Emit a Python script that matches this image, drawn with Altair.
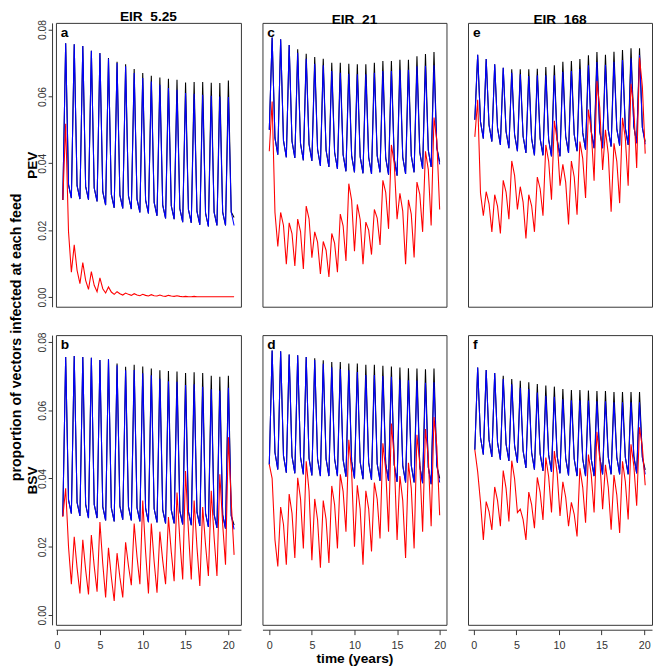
import altair as alt
import pandas as pd

# ---------------- data ----------------
# time of the first sample for each column of panels (years), sampling every 1/3 year
t_start = {"a": 0.67, "b": 0.67, "c": 0.0, "d": 0.0, "e": 0.12, "f": 0.12}
x_domain = {"a": [-0.13, 21.47], "b": [-0.13, 21.47], "c": [-0.8, 20.8],
            "d": [-0.8, 20.8], "e": [-0.68, 20.92], "f": [-0.68, 20.92]}

# ---- panel a : PEV, EIR 5.25
blue_start_a = 0.0290
black_peak_a = [0.0759,0.0756,0.0751,0.0737,0.0730,0.0715,0.0704,0.0696,0.0682,0.0670,0.0662,0.0657,0.0653,0.0650,0.0642,0.0643,0.0643,0.0641,0.0640,0.0648]
blue_peak_a = [0.0759,0.0756,0.0751,0.0737,0.0729,0.0713,0.0700,0.0690,0.0670,0.0655,0.0645,0.0635,0.0625,0.0620,0.0610,0.0608,0.0605,0.0602,0.0600,0.0598]
blue_fall_a = [0.0336,0.0333,0.0331,0.0326,0.0315,0.0307,0.0305,0.0303,0.0293,0.0290,0.0283,0.0275,0.0273,0.0264,0.0262,0.0256,0.0251,0.0254,0.0254,0.0254]
blue_trough_a = [0.0296,0.0293,0.0291,0.0286,0.0275,0.0267,0.0265,0.0263,0.0253,0.0250,0.0243,0.0235,0.0233,0.0224,0.0222,0.0216,0.0211,0.0214,0.0214,0.0214]
black_end_a = 0.0238
red_start_a = 0.0290
red_peak_a = [0.0518,0.0156,0.0103,0.0076,0.0057,0.0030,0.0016,0.0012,0.0010,0.0008,0.0007,0.0006,0.0005,0.0004,0.0002,0.0002,0.0001,0.0001,0.0001,0.0001]
red_shoulder_a = [0.0195,0.0080,0.0050,0.0035,0.0025,0.0015,0.0010,0.0008,0.0006,0.0005,0.0004,0.0003,0.0003,0.0002,0.0001,0.0001,0.0001,0.0001,0.0001,0.0001]
red_trough_a = [0.0074,0.0040,0.0023,0.0016,0.0012,0.0008,0.0006,0.0005,0.0004,0.0003,0.0003,0.0002,0.0002,0.0001,0.0001,0.0001,0.0001,0.0001,0.0001,0.0001]

# ---- panel b : BSV, EIR 5.25
blue_start_b = 0.0290
black_peak_b = [0.0756,0.0759,0.0756,0.0754,0.0747,0.0749,0.0737,0.0727,0.0733,0.0728,0.0722,0.0717,0.0715,0.0713,0.0709,0.0711,0.0709,0.0701,0.0698,0.0701]
blue_peak_b = [0.0756,0.0759,0.0756,0.0754,0.0747,0.0749,0.0732,0.0717,0.0718,0.0708,0.0702,0.0692,0.0685,0.0683,0.0674,0.0676,0.0669,0.0661,0.0658,0.0666]
blue_fall_b = [0.0337,0.0330,0.0324,0.0324,0.0317,0.0314,0.0319,0.0317,0.0314,0.0312,0.0311,0.0308,0.0308,0.0305,0.0303,0.0301,0.0298,0.0295,0.0293,0.0291]
blue_trough_b = [0.0297,0.0290,0.0284,0.0284,0.0277,0.0274,0.0279,0.0277,0.0274,0.0272,0.0271,0.0268,0.0268,0.0265,0.0263,0.0261,0.0258,0.0255,0.0253,0.0251]
black_end_b = 0.0263
red_start_b = 0.0287
red_peak_b = [0.0371,0.0229,0.0220,0.0234,0.0272,0.0197,0.0181,0.0213,0.0268,0.0335,0.0268,0.0244,0.0287,0.0359,0.0422,0.0335,0.0316,0.0364,0.0412,0.0521]
red_shoulder_b = [0.0200,0.0138,0.0132,0.0143,0.0150,0.0111,0.0110,0.0144,0.0170,0.0185,0.0156,0.0159,0.0184,0.0219,0.0247,0.0198,0.0205,0.0227,0.0266,0.0331]
red_trough_b = [0.0090,0.0063,0.0060,0.0068,0.0051,0.0041,0.0051,0.0087,0.0090,0.0063,0.0065,0.0090,0.0099,0.0104,0.0104,0.0085,0.0114,0.0114,0.0147,0.0176]

# ---- panel c : PEV, EIR 21
blue_start_c = 0.0500
black_peak_c = [0.0776,0.0771,0.0754,0.0741,0.0728,0.0718,0.0713,0.0701,0.0701,0.0698,0.0696,0.0696,0.0701,0.0706,0.0706,0.0710,0.0710,0.0720,0.0727,0.0733]
blue_peak_c = [0.0776,0.0771,0.0754,0.0731,0.0713,0.0698,0.0693,0.0676,0.0671,0.0668,0.0666,0.0666,0.0671,0.0676,0.0676,0.0680,0.0680,0.0690,0.0692,0.0693]
blue_fall_c = [0.0476,0.0468,0.0466,0.0459,0.0457,0.0442,0.0439,0.0433,0.0426,0.0423,0.0420,0.0418,0.0423,0.0416,0.0413,0.0418,0.0423,0.0433,0.0439,0.0447]
blue_trough_c = [0.0426,0.0418,0.0416,0.0409,0.0407,0.0392,0.0389,0.0383,0.0376,0.0373,0.0370,0.0368,0.0373,0.0366,0.0363,0.0368,0.0373,0.0383,0.0389,0.0397]
black_end_c = 0.0405
red_start_c = 0.0436
red_peak_c = [0.0585,0.0253,0.0222,0.0233,0.0272,0.0195,0.0166,0.0190,0.0248,0.0339,0.0277,0.0224,0.0262,0.0349,0.0455,0.0310,0.0291,0.0344,0.0436,0.0537]
red_shoulder_c = [0.0253,0.0214,0.0190,0.0196,0.0234,0.0164,0.0140,0.0161,0.0213,0.0289,0.0232,0.0200,0.0236,0.0313,0.0400,0.0257,0.0248,0.0307,0.0381,0.0468]
red_trough_c = [0.0151,0.0098,0.0093,0.0084,0.0118,0.0069,0.0060,0.0074,0.0108,0.0137,0.0098,0.0127,0.0156,0.0204,0.0233,0.0098,0.0118,0.0195,0.0214,0.0262]

# ---- panel d : BSV, EIR 21
blue_start_d = 0.0441
black_peak_d = [0.0775,0.0773,0.0763,0.0761,0.0756,0.0752,0.0746,0.0741,0.0741,0.0737,0.0737,0.0733,0.0733,0.0730,0.0728,0.0725,0.0723,0.0722,0.0720,0.0722]
blue_peak_d = [0.0775,0.0773,0.0763,0.0761,0.0756,0.0747,0.0736,0.0726,0.0721,0.0717,0.0712,0.0703,0.0703,0.0700,0.0698,0.0690,0.0688,0.0687,0.0680,0.0682]
blue_fall_d = [0.0476,0.0467,0.0465,0.0462,0.0459,0.0457,0.0457,0.0457,0.0455,0.0450,0.0448,0.0446,0.0443,0.0443,0.0440,0.0438,0.0438,0.0436,0.0433,0.0438]
blue_trough_d = [0.0426,0.0417,0.0415,0.0412,0.0409,0.0407,0.0407,0.0407,0.0405,0.0400,0.0398,0.0396,0.0393,0.0393,0.0390,0.0388,0.0388,0.0386,0.0383,0.0388]
black_end_d = 0.0400
red_start_d = 0.0441
red_peak_d = [0.0400,0.0316,0.0354,0.0402,0.0450,0.0340,0.0335,0.0378,0.0412,0.0513,0.0380,0.0364,0.0388,0.0503,0.0561,0.0407,0.0446,0.0528,0.0545,0.0580]
red_shoulder_d = [0.0220,0.0265,0.0298,0.0340,0.0363,0.0279,0.0280,0.0323,0.0362,0.0419,0.0310,0.0311,0.0339,0.0425,0.0459,0.0335,0.0371,0.0443,0.0460,0.0494]
red_trough_d = [0.0142,0.0147,0.0167,0.0195,0.0160,0.0138,0.0152,0.0195,0.0244,0.0200,0.0147,0.0186,0.0224,0.0244,0.0220,0.0167,0.0195,0.0244,0.0260,0.0292]

# ---- panel e : PEV, EIR 168
blue_start_e = 0.0530
black_peak_e = [0.0725,0.0712,0.0696,0.0686,0.0681,0.0681,0.0681,0.0683,0.0688,0.0693,0.0704,0.0706,0.0712,0.0723,0.0733,0.0725,0.0734,0.0739,0.0744,0.0744]
blue_peak_e = [0.0725,0.0712,0.0696,0.0686,0.0671,0.0666,0.0661,0.0663,0.0663,0.0663,0.0674,0.0676,0.0682,0.0693,0.0703,0.0695,0.0704,0.0709,0.0714,0.0724]
blue_fall_e = [0.0524,0.0515,0.0505,0.0495,0.0486,0.0481,0.0474,0.0474,0.0471,0.0471,0.0481,0.0486,0.0491,0.0495,0.0495,0.0500,0.0503,0.0505,0.0510,0.0507]
blue_trough_e = [0.0474,0.0465,0.0455,0.0445,0.0436,0.0431,0.0424,0.0424,0.0421,0.0421,0.0431,0.0436,0.0441,0.0445,0.0445,0.0450,0.0453,0.0455,0.0460,0.0457]
black_end_e = 0.0465
red_start_e = 0.0479
red_peak_e = [0.0590,0.0315,0.0306,0.0349,0.0407,0.0330,0.0306,0.0359,0.0455,0.0527,0.0397,0.0407,0.0465,0.0561,0.0646,0.0500,0.0460,0.0536,0.0638,0.0716]
red_shoulder_e = [0.0310,0.0279,0.0271,0.0314,0.0364,0.0284,0.0273,0.0324,0.0406,0.0469,0.0343,0.0359,0.0414,0.0497,0.0566,0.0427,0.0406,0.0475,0.0562,0.0630]
red_trough_e = [0.0243,0.0195,0.0190,0.0233,0.0262,0.0175,0.0195,0.0243,0.0291,0.0333,0.0217,0.0246,0.0296,0.0348,0.0380,0.0255,0.0281,0.0333,0.0386,0.0429]

# ---- panel f : BSV, EIR 168
blue_start_f = 0.0484
black_peak_f = [0.0725,0.0718,0.0709,0.0701,0.0691,0.0686,0.0682,0.0677,0.0672,0.0669,0.0662,0.0659,0.0659,0.0658,0.0656,0.0656,0.0653,0.0653,0.0653,0.0653]
blue_peak_f = [0.0725,0.0718,0.0709,0.0691,0.0676,0.0666,0.0662,0.0652,0.0642,0.0639,0.0632,0.0629,0.0629,0.0628,0.0626,0.0626,0.0623,0.0623,0.0623,0.0623]
blue_fall_f = [0.0520,0.0513,0.0505,0.0501,0.0496,0.0481,0.0476,0.0472,0.0469,0.0465,0.0459,0.0457,0.0457,0.0457,0.0462,0.0462,0.0462,0.0462,0.0465,0.0462]
blue_trough_f = [0.0470,0.0463,0.0455,0.0451,0.0446,0.0431,0.0426,0.0422,0.0419,0.0415,0.0409,0.0407,0.0407,0.0407,0.0412,0.0412,0.0412,0.0412,0.0415,0.0412]
black_end_f = 0.0425
red_start_f = 0.0484
red_peak_f = [0.0420,0.0332,0.0375,0.0423,0.0452,0.0310,0.0360,0.0403,0.0461,0.0480,0.0390,0.0330,0.0430,0.0470,0.0537,0.0440,0.0410,0.0450,0.0500,0.0550]
red_shoulder_f = [0.0330,0.0303,0.0335,0.0371,0.0399,0.0279,0.0323,0.0359,0.0405,0.0414,0.0345,0.0295,0.0374,0.0411,0.0458,0.0374,0.0351,0.0391,0.0437,0.0491]
red_trough_f = [0.0220,0.0249,0.0260,0.0274,0.0300,0.0220,0.0254,0.0278,0.0300,0.0290,0.0260,0.0230,0.0270,0.0300,0.0310,0.0250,0.0240,0.0280,0.0320,0.0380]

column_titles = {"a": "EIR\u00a0 5.25", "c": "EIR\u00a0 21", "e": "EIR\u00a0 168"}
row_titles = {"a": "PEV", "b": "BSV"}
y_ticks = [0.0, 0.02, 0.04, 0.06, 0.08]
x_ticks = [0, 5, 10, 15, 20]

D = globals()


def cycle_series(start, peaks, mids, lows):
    vals = [start]
    for p, m, l in zip(peaks, mids, lows):
        vals += [p, m, l]
    return vals


def panel_frame(k):
    blue = cycle_series(D[f"blue_start_{k}"], D[f"blue_peak_{k}"], D[f"blue_fall_{k}"], D[f"blue_trough_{k}"])
    black = cycle_series(D[f"blue_start_{k}"], D[f"black_peak_{k}"], D[f"blue_fall_{k}"],
                         D[f"blue_trough_{k}"][:-1] + [D[f"black_end_{k}"]])
    red = cycle_series(D[f"red_start_{k}"], D[f"red_peak_{k}"], D[f"red_shoulder_{k}"], D[f"red_trough_{k}"])
    rows = []
    for name, vals in (("black", black), ("blue", blue), ("red", red)):
        for i, v in enumerate(vals):
            rows.append({"t": t_start[k] + i / 3.0, "v": v, "s": name})
    return pd.DataFrame(rows)


FONT = "Liberation Sans"
W = {"a": 189, "b": 189, "c": 188, "d": 188, "e": 188, "f": 188}
H_TOP, H_BOT = 290, 296
colors = {"black": "#000000", "blue": "#0000ff", "red": "#ff0000"}


def make_panel(k):
    df = panel_frame(k)
    bottom = k in ("b", "d", "f")
    left = k in ("a", "b")
    if bottom:
        xaxis = alt.Axis(values=x_ticks, format="d", title=("time (years)" if k == "d" else None),
                         grid=False, tickSize=5, offset=5, labelPadding=5, labelFontSize=11,
                         labelColor="#333333", tickColor="#333333", domainColor="#333333",
                         titleFontSize=14, titleFontWeight="bold", titleColor="#000000",
                         titlePadding=1, labelFont=FONT, titleFont=FONT, labelFlush=False)
    else:
        xaxis = None
    if left:
        yaxis = alt.Axis(values=y_ticks, format=".2f", title=row_titles[k], grid=False,
                         tickSize=4, offset=4, labelAngle=270, labelAlign="center",
                         labelBaseline="bottom", labelPadding=1, labelFontSize=10.5,
                         labelColor="#333333", tickColor="#333333", domainColor="#333333",
                         titleFontSize=14, titleFontWeight="bold", titleColor="#000000",
                         titlePadding=-2, labelFont=FONT, titleFont=FONT, labelFlush=False)
    else:
        yaxis = None
    x = alt.X("t:Q", scale=alt.Scale(domain=x_domain[k], nice=False, zero=False), axis=xaxis)
    y = alt.Y("v:Q", scale=alt.Scale(domain=[-0.0029, 0.0820], nice=False, zero=False), axis=yaxis)
    layers = []
    for s in ("black", "blue", "red"):
        layers.append(
            alt.Chart(df).transform_filter(alt.datum.s == s)
            .mark_line(color=colors[s], strokeWidth=1.1, clip=True)
            .encode(x=x, y=y)
        )
    lab = alt.Chart(pd.DataFrame({"lab": [k]})).mark_text(
        align="left", baseline="top", fontSize=14, fontWeight="bold", font=FONT, color="#000000"
    ).encode(text="lab:N", x=alt.value(5), y=alt.value(3))
    layers.append(lab)
    props = dict(width=W[k], height=(H_BOT if bottom else H_TOP))
    if k in column_titles:
        props["title"] = alt.TitleParams(column_titles[k], fontSize=14, fontWeight="bold",
                                         font=FONT, anchor="middle", offset=-4, color="#000000")
    return alt.layer(*layers).properties(**props)


top_row = alt.hconcat(make_panel("a"), make_panel("c"), make_panel("e"), spacing=20)
bottom_row = alt.hconcat(make_panel("b"), make_panel("d"), make_panel("f"), spacing=20)

chart = alt.vconcat(
    top_row, bottom_row, spacing=24,
    title=alt.TitleParams("proportion of vectors infected at each feed", orient="left",
                          anchor="middle", fontSize=14.5, fontWeight="bold", font=FONT,
                          offset=1, color="#000000"),
).properties(
    padding={"left": 0, "top": -6, "right": 0, "bottom": 0}
).configure_view(
    stroke="#333333", strokeWidth=1
)

chart.save("out.html", embed_options={"renderer": "svg", "actions": False})
